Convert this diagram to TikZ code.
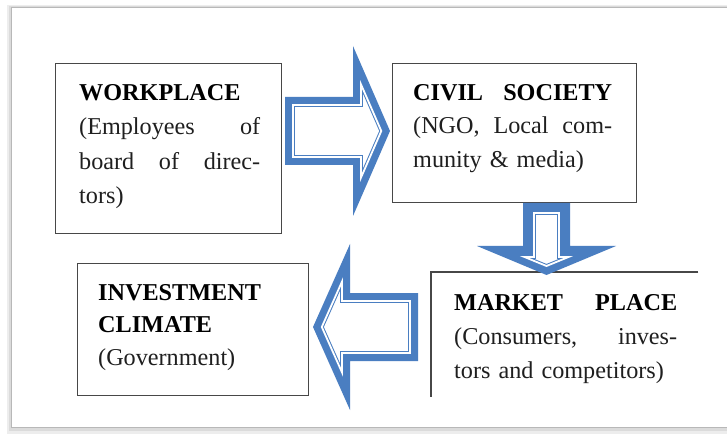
\documentclass[tikz,border=0pt]{standalone}
\usepackage{fontspec}
\setmainfont{Liberation Serif}
\definecolor{arrowblue}{RGB}{74,126,193}
\tikzset{
  boxline/.style={draw=black!72, line width=1.3pt},
  box/.style={boxline, fill=white, inner sep=0pt, anchor=north west},
  txt/.style={anchor=north west, inner sep=0pt, align=left, text=black!88},
  outerarrow/.style={fill=arrowblue},
  innerarrow/.style={fill=white, draw=arrowblue, line width=1pt, double=white, double distance=1.8pt, line join=miter},
}
\newcommand{\ttl}[1]{\textcolor{black}{\textbf{#1}}}
\begin{document}
\begin{tikzpicture}[x=1pt,y=-1pt]
\useasboundingbox (0,0) rectangle (727,435);
\clip (0,0) rectangle (727,435);
% outer frame with shadow
\fill[black!7] (7,5) rectangle (745,434);
\fill[black!14] (9,6) rectangle (745,431);
\fill[white] (12,8) rectangle (745,427);
\draw[black!28, line width=0.8pt] (11.5,7.5) rectangle (745,427.5);

% boxes
\node[box, minimum width=226pt, minimum height=170pt] (wp) at (55,63) {};
\node[box, minimum width=244pt, minimum height=139pt] (cs) at (392,63) {};
\node[box, minimum width=231pt, minimum height=132pt] (ic) at (77,263) {};
\node[inner sep=0pt, anchor=north west, minimum width=267pt, minimum height=125pt] (mp) at (431,272) {};
\draw[boxline] (mp.north east) -- (mp.north west) -- (mp.south west);

% texts
\node[txt, text width=181pt, font=\fontsize{24.2}{34.5}\selectfont] (wpt) at (79,84)
  {\ttl{WORKPLACE}\\(Employees\hfill of\\board\hfill of\hfill direc-\\tors)};
\node[txt, text width=199pt, font=\fontsize{24.2}{33.5}\selectfont] (cst) at (413,84)
  {\ttl{CIVIL\hfill SOCIETY}\\(NGO,\hfill Local\hfill com-\\munity \& media)};
\node[txt, text width=190pt, font=\fontsize{24.2}{32.5}\selectfont] (ict) at (98,284)
  {\ttl{INVESTMENT}\\\ttl{CLIMATE}\\(Government)};
\node[txt, text width=223pt, font=\fontsize{24.2}{34}\selectfont] (mpt) at (454,294)
  {\ttl{MARKET\hfill PLACE}\\(Consumers,\hfill inves-\\tors and competitors)};

% right arrow (workplace -> civil society)
\fill[outerarrow] (285,97) -- (353,97) -- (353,46) -- (390,131) -- (353,216) -- (353,165) -- (285,165) -- cycle;
\draw[innerarrow] (293,105) -- (361,105) -- (361,84.4) -- (381.3,131) -- (361,177.6) -- (361,157) -- (293,157) -- cycle;

% down arrow (civil society -> market place)
\fill[outerarrow] (523,203) -- (570,203) -- (570,246) -- (616,246) -- (546.5,275) -- (477,246) -- (523,246) -- cycle;
\draw[innerarrow] (534,213) -- (559,213) -- (559,257) -- (568.5,257) -- (546.5,266) -- (524.5,257) -- (534,257) -- cycle;

% left arrow (market place -> investment climate)
\fill[outerarrow] (418,293) -- (350,293) -- (350,244) -- (313,327) -- (350,410) -- (350,361) -- (418,361) -- cycle;
\draw[innerarrow] (410,301) -- (342,301) -- (342,281.6) -- (321.8,327) -- (342,372.4) -- (342,353) -- (410,353) -- cycle;
\end{tikzpicture}
\end{document}
